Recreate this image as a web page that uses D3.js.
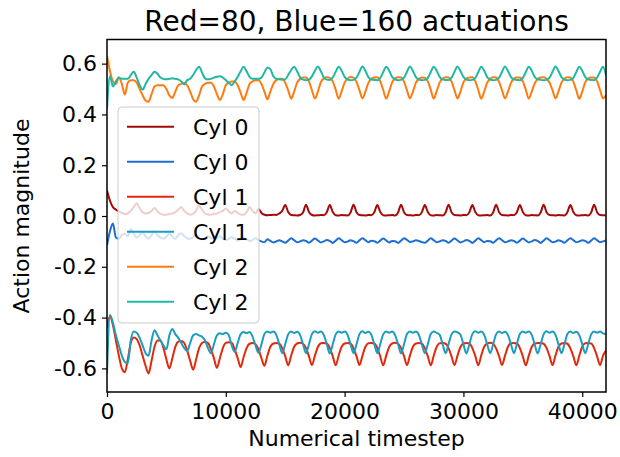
<!DOCTYPE html>
<html>
<head>
<meta charset="utf-8">
<script src="https://cdn.jsdelivr.net/npm/d3@7"></script>
<style>
  body { margin: 0; background: #fff; }
  svg { font-family: "DejaVu Sans", sans-serif; }
</style>
</head>
<body>
<script>
// one sample every 250 timesteps
var step = 250;

var cyl0Red = [
  0.1,0.06,0.035,0.025,0.018,0.012,0.008,0.01,0.02,0.035,
  0.05,0.03,0.015,0.01,0.012,0.02,0.032,0.018,0.008,0.005,
  0.005,0.008,0.01,0.015,0.025,0.035,0.02,0.01,0.005,0.008,
  0.02,0.04,0.025,0.01,0.006,0.005,0.008,0.01,0.015,0.02,
  0.03,0.018,0.01,0.02,0.012,0.006,0.005,0.015,0.035,0.02,
  0.01,0.028,0.012,0.005,0.003,0.004,0.005,0.004,0.01,0.02,
  0.043,0.016,0.004,0.003,0.002,0.004,0.014,
  0.044,0.016,0.004,0.002,0.003,0.004,0.003,0.015,
  0.043,0.016,0.003,0.002,0.004,0.003,0.002,0.014,
  0.044,0.015,0.004,0.003,0.002,0.004,0.003,0.015,
  0.043,0.016,0.003,0.002,0.003,0.004,0.002,0.014,
  0.044,0.015,0.004,0.003,0.002,0.004,0.003,0.015,
  0.043,0.016,0.003,0.002,0.004,0.003,0.002,0.014,
  0.044,0.015,0.004,0.003,0.002,0.004,0.003,0.015,
  0.043,0.016,0.003,0.002,0.003,0.004,0.002,0.014,
  0.044,0.015,0.004,0.003,0.002,0.004,0.003,0.015,
  0.043,0.016,0.003,0.002,0.004,0.003,0.002,0.014,
  0.044,0.015,0.004,0.003,0.002,0.004,0.003,0.002,0.015,
  0.043,0.016,0.003,0.002,0.003,0.004,0.002,0.014,
  0.044,0.015,0.004,0.003,0.002
];

var cyl0Blue = [
  -0.115,-0.06,-0.03,-0.085,-0.09,-0.075,-0.07,-0.08,-0.05,-0.07,
  -0.085,-0.075,-0.065,-0.08,-0.09,-0.075,-0.06,-0.075,-0.085,-0.09,
  -0.08,-0.07,-0.08,-0.09,-0.075,-0.068,-0.08,-0.088,-0.09,-0.082,
  -0.075,-0.085,-0.092,-0.09,-0.08,-0.085,-0.093,-0.088,-0.08,-0.09,
  -0.095,-0.09,-0.083,-0.09,-0.096,-0.092,-0.085,-0.092,-0.098,-0.095,
  -0.088,-0.095,-0.1,-0.103,-0.092,-0.098,-0.104,-0.1,-0.095,-0.1,
  -0.105,-0.097,
  -0.088,-0.095,-0.103,-0.1,-0.095,-0.098,-0.105,-0.097,
  -0.089,-0.096,-0.104,-0.1,-0.094,-0.098,-0.106,-0.097,
  -0.088,-0.095,-0.103,-0.101,-0.095,-0.099,-0.105,-0.096,
  -0.088,-0.095,-0.103,-0.097,-0.099,-0.105,-0.097,
  -0.089,-0.096,-0.104,-0.098,-0.099,-0.106,-0.097,
  -0.088,-0.094,-0.102,-0.1,-0.095,-0.098,-0.103,-0.105,-0.097,
  -0.088,-0.095,-0.103,-0.1,-0.095,-0.098,-0.105,-0.097,
  -0.089,-0.096,-0.104,-0.1,-0.094,-0.098,-0.106,-0.097,
  -0.088,-0.095,-0.103,-0.098,-0.099,-0.105,-0.096,
  -0.088,-0.095,-0.103,-0.1,-0.095,-0.098,-0.105,-0.097,
  -0.089,-0.096,-0.104,-0.1,-0.094,-0.098,-0.106,-0.097,
  -0.088,-0.095,-0.103,-0.101,-0.095,-0.099,-0.105,-0.096,
  -0.088,-0.095,-0.103,-0.1,-0.095,-0.098,-0.105,-0.097,
  -0.088,-0.095,-0.103,-0.1,-0.096
];

var cyl1Red = [
  -0.44,-0.395,-0.43,-0.49,-0.55,-0.6,-0.615,-0.565,-0.5,-0.478,
  -0.485,-0.51,-0.55,-0.59,-0.62,-0.57,-0.515,-0.49,-0.49,-0.52,
  -0.565,-0.6,-0.56,-0.515,-0.495,-0.492,-0.5,-0.53,-0.57,-0.605,
  -0.565,-0.52,-0.5,-0.495,-0.5,-0.525,-0.56,-0.598,-0.56,-0.52,
  -0.5,-0.497,-0.5,-0.525,-0.56,-0.595,-0.555,-0.52,-0.503,-0.5,
  -0.505,-0.525,-0.56,-0.59,
  -0.55,-0.515,-0.502,-0.5,-0.503,-0.52,-0.552,
  -0.588,-0.55,-0.515,-0.502,-0.499,-0.503,-0.52,-0.553,
  -0.587,-0.55,-0.516,-0.501,-0.5,-0.502,-0.52,-0.552,
  -0.588,-0.549,-0.515,-0.502,-0.5,-0.503,-0.521,-0.552,
  -0.587,-0.55,-0.515,-0.501,-0.5,-0.502,-0.52,-0.553,
  -0.588,-0.55,-0.516,-0.502,-0.499,-0.503,-0.52,-0.552,
  -0.587,-0.549,-0.515,-0.502,-0.5,-0.502,-0.521,-0.552,
  -0.588,-0.55,-0.515,-0.501,-0.5,-0.503,-0.52,-0.553,
  -0.587,-0.55,-0.516,-0.502,-0.5,-0.502,-0.52,-0.552,
  -0.588,-0.549,-0.515,-0.502,-0.499,-0.503,-0.521,-0.552,
  -0.587,-0.55,-0.515,-0.501,-0.5,-0.502,-0.52,-0.553,
  -0.588,-0.55,-0.516,-0.502,-0.5,-0.5,-0.503,-0.52,-0.552,
  -0.587,-0.549,-0.515,-0.502,-0.5,-0.503,-0.521,-0.552,
  -0.588,-0.55,-0.515,-0.501,-0.5,-0.502,-0.52,-0.553,
  -0.587,-0.55,-0.53
];

var cyl1Blue = [
  -0.62,-0.39,-0.42,-0.47,-0.51,-0.55,-0.575,-0.58,-0.49,-0.455,
  -0.46,-0.48,-0.51,-0.54,-0.55,-0.49,-0.45,-0.47,-0.49,-0.51,
  -0.525,-0.47,-0.445,-0.465,-0.48,-0.5,-0.52,-0.532,-0.5,-0.47,
  -0.465,-0.47,-0.475,-0.49,-0.52,-0.54,-0.505,-0.47,-0.462,-0.465,
  -0.46,-0.47,-0.51,-0.535,-0.5,-0.465,-0.457,-0.462,-0.457,-0.475,
  -0.51,-0.538,
  -0.505,-0.465,-0.455,-0.46,-0.455,-0.468,-0.505,
  -0.54,-0.505,-0.466,-0.455,-0.461,-0.456,-0.468,-0.505,
  -0.54,-0.504,-0.465,-0.454,-0.46,-0.455,-0.469,-0.505,
  -0.541,-0.505,-0.466,-0.455,-0.46,-0.455,-0.468,-0.506,
  -0.54,-0.505,-0.465,-0.454,-0.461,-0.456,-0.468,-0.505,
  -0.54,-0.504,-0.466,-0.455,-0.46,-0.455,-0.469,-0.505,
  -0.541,-0.505,-0.465,-0.455,-0.46,-0.455,-0.468,-0.506,
  -0.54,-0.505,-0.465,-0.455,-0.46,-0.468,-0.505,
  -0.54,-0.504,-0.466,-0.455,-0.458,-0.468,-0.505,
  -0.541,-0.505,-0.465,-0.454,-0.46,-0.455,-0.468,-0.505,
  -0.54,-0.505,-0.466,-0.455,-0.461,-0.456,-0.469,-0.505,
  -0.54,-0.504,-0.465,-0.455,-0.46,-0.455,-0.468,-0.506,
  -0.541,-0.505,-0.466,-0.454,-0.46,-0.455,-0.468,-0.505,
  -0.54,-0.505,-0.465,-0.455,-0.461,-0.456,-0.469,-0.505,
  -0.54,-0.505,-0.466,-0.455,-0.46,-0.455,-0.462,-0.465
];

var cyl2Red = [
  0.63,0.57,0.53,0.52,0.545,0.52,0.478,0.525,0.535,0.535,
  0.525,0.5,0.475,0.455,0.45,0.48,0.51,0.515,0.515,0.515,
  0.5,0.475,0.465,0.49,0.515,0.52,0.525,0.515,0.49,0.46,
  0.45,0.475,0.51,0.52,0.525,0.525,0.51,0.48,0.457,0.48,
  0.515,0.525,0.53,0.53,0.515,0.485,0.457,0.485,0.52,0.53,
  0.535,0.535,0.52,0.49,0.46,0.49,0.52,0.535,0.54,0.54,
  0.525,0.495,
  0.462,0.49,0.525,0.54,0.545,0.545,0.53,0.495,
  0.463,0.49,0.527,0.542,0.546,0.544,0.53,0.497,
  0.462,0.492,0.525,0.541,0.547,0.545,0.528,0.495,
  0.463,0.49,0.524,0.54,0.545,0.546,0.53,0.496,
  0.462,0.491,0.526,0.542,0.546,0.545,0.529,0.495,
  0.463,0.49,0.525,0.54,0.545,0.544,0.53,0.497,
  0.462,0.492,0.525,0.541,0.546,0.545,0.529,0.495,
  0.463,0.49,0.526,0.542,0.545,0.546,0.53,0.496,
  0.462,0.491,0.525,0.54,0.546,0.545,0.528,0.495,
  0.463,0.49,0.524,0.541,0.545,0.545,0.53,0.497,
  0.462,0.49,0.522,0.539,0.545,0.546,0.54,0.525,0.495,
  0.463,0.491,0.525,0.541,0.546,0.545,0.529,0.495,
  0.462,0.49,0.526,0.542,0.545,0.545,0.53,0.496,
  0.463,0.475
];

var cyl2Blue = [
  0.42,0.55,0.51,0.53,0.545,0.54,0.54,0.54,0.555,0.568,
  0.545,0.515,0.498,0.52,0.54,0.555,0.568,0.56,0.545,0.54,
  0.538,0.54,0.542,0.54,0.538,0.53,0.518,0.535,0.54,0.555,
  0.575,0.588,0.565,0.542,0.538,0.54,0.545,0.548,0.55,0.545,
  0.535,0.525,0.515,0.53,0.548,0.57,0.588,0.57,0.548,0.54,
  0.54,0.54,0.545,0.565,0.585,0.578,0.55,0.54,0.538,0.537,
  0.538,0.555,0.575,0.588,0.57,0.546,0.537,0.535,0.537,0.55,
  0.572,0.589,0.57,0.546,0.537,0.536,0.545,0.568,
  0.588,0.572,0.548,0.537,0.535,0.536,0.545,0.568,
  0.589,0.571,0.547,0.537,0.536,0.535,0.544,0.567,
  0.588,0.572,0.548,0.538,0.535,0.536,0.545,0.568,
  0.589,0.571,0.547,0.537,0.535,0.536,0.544,0.567,
  0.588,0.572,0.548,0.537,0.536,0.535,0.545,0.568,
  0.589,0.571,0.548,0.537,0.535,0.536,0.544,0.567,
  0.588,0.572,0.547,0.538,0.535,0.536,0.545,0.568,
  0.589,0.571,0.548,0.537,0.536,0.535,0.544,0.567,
  0.588,0.572,0.548,0.538,0.536,0.535,0.536,0.545,0.568,
  0.589,0.571,0.547,0.537,0.535,0.536,0.544,0.567,
  0.588,0.572,0.548,0.537,0.536,0.535,0.545,0.568,
  0.588,0.555
];

var labels = ["Cyl 0", "Cyl 0", "Cyl 1", "Cyl 1", "Cyl 2", "Cyl 2"];
var colors = ["#a50a0a", "#1c6fcf", "#e3290c", "#1b9dc0", "#ff7b10", "#1fb8a3"];
var xTicks = [0, 10000, 20000, 30000, 40000];
var yTicks = [-0.6, -0.4, -0.2, 0.0, 0.2, 0.4, 0.6];

var series = [cyl0Red, cyl0Blue, cyl1Red, cyl1Blue, cyl2Red, cyl2Blue];

var width = 620, height = 457;
var margin = {left: 107, right: 14, top: 39.5, bottom: 65};

var svg = d3.select("body").append("svg")
  .attr("width", width)
  .attr("height", height);

var x = d3.scaleLinear().domain([0, 42000]).range([margin.left, width - margin.right]);
var y = d3.scaleLinear().domain([-0.693, 0.695]).range([height - margin.bottom, margin.top]);

svg.append("clipPath").attr("id", "plot")
  .append("rect")
  .attr("x", margin.left).attr("y", margin.top)
  .attr("width", x.range()[1] - margin.left)
  .attr("height", y.range()[0] - margin.top);

var line = d3.line()
  .curve(d3.curveMonotoneX)
  .x(function(d, i) { return x(i * step); })
  .y(function(d) { return y(d); });

svg.append("g").attr("clip-path", "url(#plot)")
  .selectAll("path")
  .data(series)
  .enter().append("path")
  .attr("d", line)
  .attr("fill", "none")
  .attr("stroke", function(d, i) { return colors[i]; })
  .attr("stroke-width", 2)
  .attr("stroke-linejoin", "round");

// axes
var xAxis = svg.append("g")
  .attr("transform", "translate(0," + y.range()[0] + ")")
  .call(d3.axisBottom(x).tickValues(xTicks).tickSize(5).tickPadding(6).tickFormat(d3.format("d")));

var yAxis = svg.append("g")
  .attr("transform", "translate(" + margin.left + ",0)")
  .call(d3.axisLeft(y).tickValues(yTicks).tickSize(5).tickPadding(5)
    .tickFormat(function(d) { return d3.format(".1f")(d).replace("\u2212", "-"); }));

[xAxis, yAxis].forEach(function(a) {
  a.select(".domain").remove();
  a.selectAll("line").attr("stroke", "#000").attr("stroke-width", 1.2);
  a.selectAll("text").attr("font-size", 22).attr("fill", "#000")
    .attr("font-family", "DejaVu Sans");
});

// frame
svg.append("rect")
  .attr("x", margin.left).attr("y", margin.top)
  .attr("width", x.range()[1] - margin.left)
  .attr("height", y.range()[0] - margin.top)
  .attr("fill", "none")
  .attr("stroke", "#000")
  .attr("stroke-width", 1.5);

// legend
var legend = svg.append("g").attr("transform", "translate(118,107)");
legend.append("rect")
  .attr("width", 141).attr("height", 216)
  .attr("rx", 4)
  .attr("fill", "#fff").attr("fill-opacity", 0.8)
  .attr("stroke", "#cccccc").attr("stroke-width", 1);

var items = legend.selectAll(".item")
  .data(labels)
  .enter().append("g")
  .attr("transform", function(d, i) { return "translate(0," + (19.7 + i * 35) + ")"; });

items.append("line")
  .attr("x1", 9).attr("x2", 56)
  .attr("stroke", function(d, i) { return colors[i]; })
  .attr("stroke-width", 2);

items.append("text")
  .attr("x", 75).attr("y", 8)
  .attr("font-size", 22)
  .text(function(d) { return d; });

// titles
svg.append("text")
  .attr("x", (margin.left + x.range()[1]) / 2)
  .attr("y", 31)
  .attr("text-anchor", "middle")
  .attr("font-size", 28)
  .text("Red=80, Blue=160 actuations");

svg.append("text")
  .attr("x", (margin.left + x.range()[1]) / 2)
  .attr("y", 446)
  .attr("text-anchor", "middle")
  .attr("font-size", 22)
  .text("Numerical timestep");

svg.append("text")
  .attr("transform", "translate(29," + y(0) + ") rotate(-90)")
  .attr("text-anchor", "middle")
  .attr("font-size", 22)
  .text("Action magnitude");
</script>
</body>
</html>
